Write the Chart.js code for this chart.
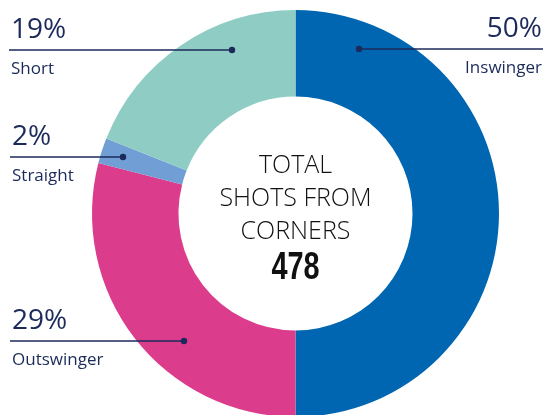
<!DOCTYPE html>
<html lang="en">
<head>
    <meta charset="UTF-8">
    <title>Shots from corners</title>
    <script src="https://cdn.jsdelivr.net/npm/chart.js"></script>
    <style>
        html, body {
            margin: 0;
            padding: 0;
            background: #ffffff;
            overflow: hidden;
        }
        #wrap {
            position: relative;
            width: 545px;
            height: 417px;
        }
    </style>
</head>
<body>
    <div id="wrap">
        <canvas id="corners-chart"></canvas>
    </div>

    <script>
        // Data
        const categories = ['Inswinger', 'Outswinger', 'Straight', 'Short'];
        const shares = [50, 29, 2, 19];
        const totalShots = 478;
        const centerLines = ['TOTAL', 'SHOTS FROM', 'CORNERS'];

        const colors = ['#0066b2', '#db3d8c', '#729ed6', '#8fcdc4'];
        const navy = '#1b2a5a';

        // where each callout sits: line y, dot x, line end x, text side
        const callouts = {
            Inswinger:  { y: 49,  dotX: 359, endX: 543, side: 'right' },
            Outswinger: { y: 341, dotX: 184, endX: 10,  side: 'left' },
            Straight:   { y: 157, dotX: 123, endX: 10,  side: 'left' },
            Short:      { y: 50,  dotX: 232, endX: 9,   side: 'left' }
        };

        const calloutPlugin = {
            id: 'callouts',
            afterDatasetsDraw(chart) {
                const ctx = chart.ctx;
                ctx.save();
                categories.forEach((name, i) => {
                    const c = callouts[name];
                    ctx.strokeStyle = navy;
                    ctx.lineWidth = 1.6;
                    ctx.beginPath();
                    ctx.moveTo(c.endX, c.y);
                    ctx.lineTo(c.dotX, c.y);
                    ctx.stroke();

                    ctx.fillStyle = navy;
                    ctx.beginPath();
                    ctx.arc(c.dotX, c.y, 3.2, 0, Math.PI * 2);
                    ctx.fill();

                    const x = c.side === 'right' ? 542 : c.endX + 2;
                    ctx.textAlign = c.side === 'right' ? 'right' : 'left';
                    ctx.textBaseline = 'alphabetic';
                    ctx.font = '28px "Open Sans", sans-serif';
                    ctx.fillText(shares[i] + '%', x, c.y - 12);
                    ctx.font = '17px "Open Sans", sans-serif';
                    ctx.fillText(name, x, c.y + 24);
                });
                ctx.restore();
            }
        };

        const centerPlugin = {
            id: 'centerText',
            afterDraw(chart) {
                const arc = chart.getDatasetMeta(0).data[0];
                const ctx = chart.ctx;
                const cx = arc.x;
                const cy = arc.y;
                ctx.save();
                ctx.fillStyle = '#111111';
                ctx.textAlign = 'center';
                ctx.textBaseline = 'alphabetic';
                ctx.font = '300 25px "Open Sans", sans-serif';
                centerLines.forEach((line, i) => {
                    ctx.fillText(line, cx, cy - 41 + i * 33);
                });
                // condensed heavy figure for the total
                ctx.translate(cx, cy + 65);
                ctx.scale(0.74, 1);
                ctx.font = 'bold 39px "Liberation Sans", Arial, sans-serif';
                ctx.fillText(String(totalShots), 0, 0);
                ctx.restore();
            }
        };

        const ctx = document.getElementById('corners-chart').getContext('2d');
        new Chart(ctx, {
            type: 'doughnut',
            data: {
                labels: categories,
                datasets: [{
                    data: shares,
                    backgroundColor: colors,
                    borderWidth: 0
                }]
            },
            options: {
                responsive: true,
                maintainAspectRatio: false,
                animation: false,
                cutout: '57.5%',
                layout: {
                    padding: { left: 92, right: 46, top: 10, bottom: 0 }
                },
                plugins: {
                    legend: { display: false },
                    tooltip: { enabled: false }
                }
            },
            plugins: [calloutPlugin, centerPlugin]
        });
    </script>
</body>
</html>
